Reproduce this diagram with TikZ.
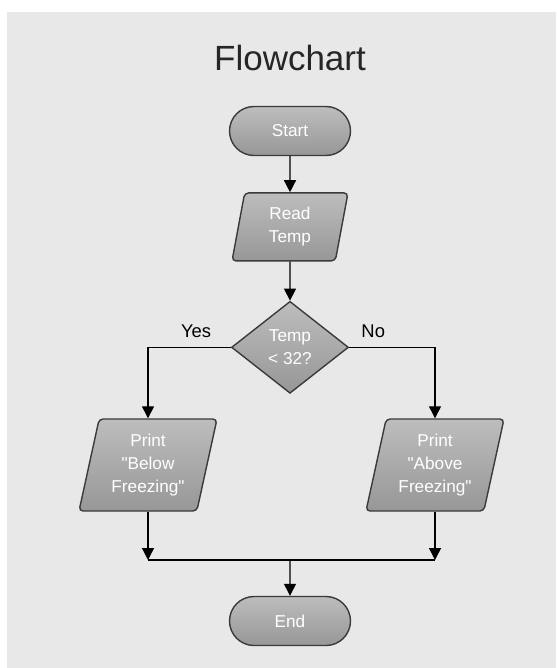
\documentclass[tikz,border=0pt]{standalone}
\usepackage{fontspec}
\setmainfont{Liberation Sans}
\usetikzlibrary{arrows.meta,positioning,shapes.geometric,shapes.misc,calc}

\definecolor{panelgray}{HTML}{E8E8E8}
\definecolor{boxtop}{HTML}{BDBDBD}
\definecolor{boxbot}{HTML}{979797}
\definecolor{boxline}{HTML}{3A3A3A}

\begin{document}
\begin{tikzpicture}[
  font=\fontsize{8.6pt}{11.5pt}\selectfont,
  >={Triangle[length=6pt,width=6pt]},
  shape3d/.style={
    draw=boxline,
    line width=0.7pt,
    top color=boxtop,
    bottom color=boxbot,
    text=white,
    align=center,
    inner sep=0pt
  },
  term/.style={
    shape3d,
    rounded rectangle,
    minimum width=60.5pt,
    minimum height=24.5pt
  },
  io/.style={
    shape3d,
    trapezium,
    trapezium left angle=72,
    trapezium right angle=108,
    trapezium stretches body,
    rounded corners=2pt
  },
  decision/.style={
    shape3d,
    diamond,
    minimum width=58.5pt,
    minimum height=46pt
  },
  flow/.style={->,line width=0.7pt},
  link/.style={line width=0.7pt},
  branch/.style={font=\fontsize{9.2pt}{11pt}\selectfont}
]
\useasboundingbox (0,0) rectangle (278pt,-334pt);
\fill[panelgray] (3.5pt,-6pt) rectangle (278pt,-334pt);

\node[font=\fontsize{17.5pt}{20pt}\selectfont,text=black!85] (title) at (145pt,-29pt) {Flowchart};
\node[term] (start) at (145pt,-65.5pt) {Start};
\node[io,minimum width=58pt,minimum height=34pt,below=18pt of start] (read) {Read\\Temp};
\node[decision,below=19.5pt of read] (cond) {Temp\\{<} 32?};
\node[io,minimum width=69pt,minimum height=46pt] (belowfz) at (74pt,-232.5pt) {Print\\\textquotedbl Below\\Freezing\textquotedbl};
\node[io,minimum width=69pt,minimum height=46pt] (abovefz) at (217.5pt,-232.5pt) {Print\\\textquotedbl Above\\Freezing\textquotedbl};
\coordinate (join) at (145pt,-280pt);
\node[term] (stop) at (145pt,-310.5pt) {End};

\draw[flow] (start) -- (read);
\draw[flow] (read) -- (cond);
\draw[flow] (cond.west) -| node[branch,pos=0.21,above=1pt] {Yes} (belowfz.north);
\draw[flow] (cond.east) -| node[branch,pos=0.14,above=1pt] {No} (abovefz.north);
\draw[flow] (belowfz.south) -- (belowfz.south |- join);
\draw[flow] (abovefz.south) -- (abovefz.south |- join);
\draw[link] (belowfz.south |- join) -- (abovefz.south |- join);
\draw[flow] (join) -- (stop);
\end{tikzpicture}
\end{document}
